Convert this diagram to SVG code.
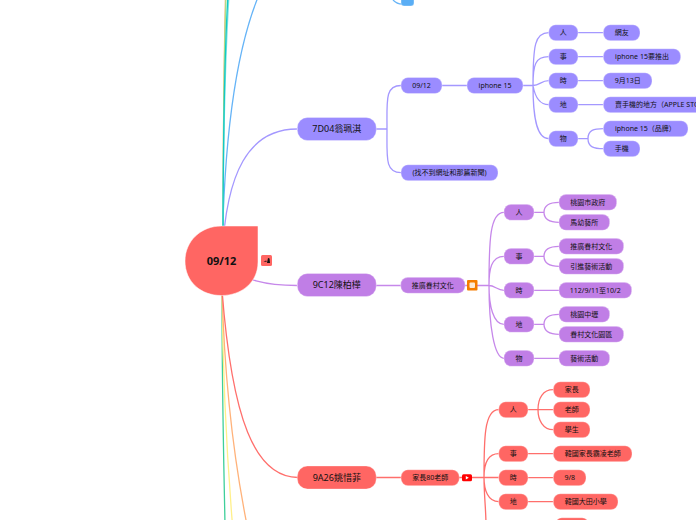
<svg xmlns="http://www.w3.org/2000/svg" width="696" height="520" viewBox="0 0 696 520">
<style>
text{font-family:"Noto Sans","Noto Sans CJK TC","DejaVu Sans",sans-serif;fill:#111;text-anchor:middle;font-size:7px}
.l1 text{font-size:9px}
.c path{fill:none;stroke-width:1.3}
.p path{stroke:#a498ff}.m path{stroke:#c688ea}.r path{stroke:#ff6f6c}
.n rect{stroke-width:1.2;stroke-opacity:.3;stroke:#fff}
.pn rect{fill:#9b8cff}.mn rect{fill:#c07ee6}.rn rect{fill:#ff6663}
</style>
<g id="connectors" class="c">
<path d="M222 262C224 100 245 25 262 -12" stroke="#66b4f7"/>
<path d="M393 0C396 3 398 4 402 4" stroke="#66b4f7"/>
<path d="M223 262C223 150 224 60 225.500 -5" stroke="#ffb27a"/>
<path d="M223 262C223 150 224 60 226 -5" stroke="#a9e08a"/>
<path d="M223 262C223 150 225 60 229 -5" stroke="#7fe6e6"/>
<path d="M223 262C223 150 224 60 228 -5" stroke="#14c8c4"/>
<path d="M222 290C222 400 224 470 225 525" stroke="#3ecf9a"/>
<path d="M222 290C223 400 228 470 232.500 525" stroke="#fff08a"/>
<path d="M222 290C225 400 238 480 247 525" stroke="#ffb27a"/>
<g class="p">
<path d="M222 262C225 170 250 129 297 129"/>
<path d="M376 129H387M387 129C387 100 385 85.500 401 85.500M387 129C387 158 385 172.700 401 172.700"/>
<path d="M442 85.500H467M523 85.500H533"/>
<path d="M533 85.500C533 45 535 32.700 548.700 32.700M533 85.500C533 65 535 56.700 548.700 56.700M533 85.500C540 85.500 541 80.700 548.700 80.700M533 85.500C535 97 540 104.700 548.700 104.700M533 85.500C533 115 536 138.700 548.700 138.700"/>
<path d="M578 32.700H603.300M578 56.700H603.300M578 80.700H603.300M578 104.700H603.300M578 138.700H588M588 138.700C588 130 594 128.700 603.300 128.700M588 138.700C588 147 594 148.700 603.300 148.700"/>
</g>
<g class="m">
<path d="M222 265C245 280 265 285.500 297 285.500"/>
<path d="M376 285.500H401M465 285.500H467M477 285.500H489"/>
<path d="M489 285.500C489 240 490 212.300 504 212.300M489 285.500C489 270 491 256.300 504 256.300M489 285.500C495 285.500 497 290.300 504 290.300M489 285.500C489 305 493 324.300 504 324.300M489 285.500C489 325 494 358.300 504 358.300"/>
<path d="M534 212.300H544M544 212.300C544 205 550 202.300 559 202.300M544 212.300C544 219 550 222.300 559 222.300"/>
<path d="M534 256.300H544M544 256.300C544 249 550 246.300 559 246.300M544 256.300C544 263 550 266.300 559 266.300"/>
<path d="M534 290.300H559M534 358.300H559"/>
<path d="M534 324.300H544M544 324.300C544 317 550 314.300 559 314.300M544 324.300C544 331 550 334.300 559 334.300"/>
</g>
<g class="r">
<path d="M222 290C232 420 255 477 298 477.500"/>
<path d="M376 477.500H401M459 477.500H462M472 477.500H484"/>
<path d="M484 477.500C484 440 484 409.700 498.700 409.700M484 477.500C484 465 487 453.700 498.700 453.700M484 477.500H498.700M484 477.500C484 490 488 501.700 498.700 501.700M484 477.500C484 495 486 510 486 525"/>
<path d="M528 409.700H553.300M538 409.700C538 398 543 389.700 553.300 389.700M538 409.700C538 420 543 429.700 553.300 429.700"/>
<path d="M528 453.700H553.300M528 477.700H553.300M528 501.700H553.300"/>
</g>
</g>
<g id="root">
<path d="M221.500 226H258V262C258 282 242 295.500 221.500 295.500C201 295.500 185 282 185 261C185 241 201 226 221.500 226Z" fill="#ff6663" stroke="#fff" stroke-opacity=".5"/>
<text x="221.500" y="265" style="font-size:11px;font-weight:700">09/12</text>
</g>
<g id="root-icon">
<rect x="261" y="255" width="11" height="11" rx="1.500" fill="#ff6663"/>
<path d="M263.500 262L266 260.500L267 261.500ZM268 258L269.500 258.500L270 263H267Z" fill="#111"/>
</g>
<g id="blue-tail" class="n"><rect x="401" y="-10" width="13" height="16" rx="3" fill="#5aaef5"/></g>

<g id="n7d04" class="n pn l1"><rect x="297.300" y="117.500" width="79" height="23" rx="10"/><text x="336.800" y="132.300">7D04翁珮淇</text></g>
<g id="p-date" class="n pn"><rect x="401" y="77.500" width="41" height="16" rx="7"/><text x="421.500" y="88">09/12</text></g>
<g id="p-missing" class="n pn"><rect x="401" y="164.700" width="97" height="16" rx="7"/><text x="449.500" y="175.300">(找不到網址和那篇新聞)</text></g>
<g id="p-iphone" class="n pn"><rect x="467" y="77.500" width="56" height="16" rx="7"/><text x="495" y="88">iphone 15</text></g>
<g id="p-who" class="n pn"><rect x="548.700" y="24.700" width="29.300" height="16" rx="7"/><text x="563.300" y="35.300">人</text></g>
<g id="p-what" class="n pn"><rect x="548.700" y="48.700" width="29.300" height="16" rx="7"/><text x="563.300" y="59.300">事</text></g>
<g id="p-when" class="n pn"><rect x="548.700" y="72.700" width="29.300" height="16" rx="7"/><text x="563.300" y="83.300">時</text></g>
<g id="p-where" class="n pn"><rect x="548.700" y="96.700" width="29.300" height="16" rx="7"/><text x="563.300" y="107.300">地</text></g>
<g id="p-thing" class="n pn"><rect x="548.700" y="130.700" width="29.300" height="16" rx="7"/><text x="563.300" y="141.300">物</text></g>
<g id="p-netizen" class="n pn"><rect x="603.300" y="24.700" width="36.700" height="16" rx="7"/><text x="621.700" y="35.300">網友</text></g>
<g id="p-launch" class="n pn"><rect x="603.300" y="48.700" width="77.400" height="16" rx="7"/><text x="642" y="59.300">iphone 15要推出</text></g>
<g id="p-day" class="n pn"><rect x="603.300" y="72.700" width="48.700" height="16" rx="7"/><text x="627.700" y="83.300">9月13日</text></g>
<g id="p-store" class="n pn"><rect x="603.300" y="96.700" width="140" height="16" rx="7"/><text x="615" y="107.300" style="text-anchor:start">賣手機的地方（APPLE STORE）</text></g>
<g id="p-brand" class="n pn"><rect x="603.300" y="120.700" width="84.700" height="16" rx="7"/><text x="615" y="131.300" style="text-anchor:start">iphone 15（品牌）</text></g>
<g id="p-phone" class="n pn"><rect x="603.300" y="140.700" width="36.700" height="16" rx="7"/><text x="621.700" y="151.300">手機</text></g>

<g id="n9c12" class="n mn l1"><rect x="297.300" y="273.500" width="79" height="23" rx="10"/><text x="336.800" y="288.300">9C12陳柏樺</text></g>
<g id="m-topic" class="n mn"><rect x="400.700" y="277.300" width="64.300" height="16" rx="7"/><text x="432.800" y="288">推廣眷村文化</text></g>
<g id="m-icon"><rect x="467" y="280" width="10.500" height="10.500" rx="1" fill="#f57c00"/><rect x="469.500" y="282.500" width="5.500" height="5.500" rx="1" fill="#fde9d4"/></g>
<g id="m-who" class="n mn"><rect x="504" y="204.300" width="30" height="16" rx="7"/><text x="519" y="214.900">人</text></g>
<g id="m-what" class="n mn"><rect x="504" y="248.300" width="30" height="16" rx="7"/><text x="519" y="258.900">事</text></g>
<g id="m-when" class="n mn"><rect x="504" y="282.300" width="30" height="16" rx="7"/><text x="519" y="292.900">時</text></g>
<g id="m-where" class="n mn"><rect x="504" y="316.300" width="30" height="16" rx="7"/><text x="519" y="326.900">地</text></g>
<g id="m-thing" class="n mn"><rect x="504" y="350.300" width="30" height="16" rx="7"/><text x="519" y="360.900">物</text></g>
<g id="m-gov" class="n mn"><rect x="559" y="194.300" width="57.700" height="16" rx="7"/><text x="587.800" y="204.900">桃園市政府</text></g>
<g id="m-studio" class="n mn"><rect x="559" y="214.300" width="50.700" height="16" rx="7"/><text x="584.300" y="224.900">馬幼藝所</text></g>
<g id="m-promote" class="n mn"><rect x="559" y="238.300" width="64.700" height="16" rx="7"/><text x="591.300" y="248.900">推廣眷村文化</text></g>
<g id="m-bring" class="n mn"><rect x="559" y="258.300" width="64.700" height="16" rx="7"/><text x="591.300" y="268.900">引進藝術活動</text></g>
<g id="m-dates" class="n mn"><rect x="559" y="282.300" width="72.700" height="16" rx="7"/><text x="595.300" y="292.900">112/9/11至10/2</text></g>
<g id="m-zhongli" class="n mn"><rect x="559" y="306.300" width="50.700" height="16" rx="7"/><text x="584.300" y="316.900">桃園中壢</text></g>
<g id="m-park" class="n mn"><rect x="559" y="326.300" width="64.700" height="16" rx="7"/><text x="591.300" y="336.900">眷村文化園區</text></g>
<g id="m-art" class="n mn"><rect x="559" y="350.300" width="50.700" height="16" rx="7"/><text x="584.300" y="360.900">藝術活動</text></g>

<g id="n9a26" class="n rn l1"><rect x="297.300" y="466" width="79" height="23" rx="10"/><text x="336.800" y="480.800">9A26姚惜菲</text></g>
<g id="r-topic" class="n rn"><rect x="401" y="469.700" width="58.300" height="16" rx="7"/><text x="430.200" y="480.300">家長80老師</text></g>
<g id="r-icon"><rect x="462" y="474.300" width="10" height="7" rx="1.500" fill="#f00"/><path d="M465.800 476L468.800 477.800L465.800 479.600Z" fill="#fff"/></g>
<g id="r-who" class="n rn"><rect x="498.700" y="401.700" width="29.300" height="16" rx="7"/><text x="513.300" y="412.300">人</text></g>
<g id="r-what" class="n rn"><rect x="498.700" y="445.700" width="29.300" height="16" rx="7"/><text x="513.300" y="456.300">事</text></g>
<g id="r-when" class="n rn"><rect x="498.700" y="469.700" width="29.300" height="16" rx="7"/><text x="513.300" y="480.300">時</text></g>
<g id="r-where" class="n rn"><rect x="498.700" y="493.700" width="29.300" height="16" rx="7"/><text x="513.300" y="504.300">地</text></g>
<g id="r-parent" class="n rn"><rect x="553.300" y="381.700" width="36.700" height="16" rx="7"/><text x="571.700" y="392.300">家長</text></g>
<g id="r-teacher" class="n rn"><rect x="553.300" y="401.700" width="36.700" height="16" rx="7"/><text x="571.700" y="412.300">老師</text></g>
<g id="r-student" class="n rn"><rect x="553.300" y="421.700" width="36.700" height="16" rx="7"/><text x="571.700" y="432.300">學生</text></g>
<g id="r-bully" class="n rn"><rect x="553.300" y="445.700" width="78.700" height="16" rx="7"/><text x="592.700" y="456.300">韓國家長霸凌老師</text></g>
<g id="r-date" class="n rn"><rect x="553.300" y="469.700" width="32.700" height="16" rx="7"/><text x="569.700" y="480.300">9/8</text></g>
<g id="r-school" class="n rn"><rect x="553.300" y="493.700" width="64.700" height="16" rx="7"/><text x="585.700" y="504.300">韓國大田小學</text></g>
<g id="r-next" class="n rn"><rect x="555" y="517.700" width="34" height="16" rx="7"/></g>
</svg>
